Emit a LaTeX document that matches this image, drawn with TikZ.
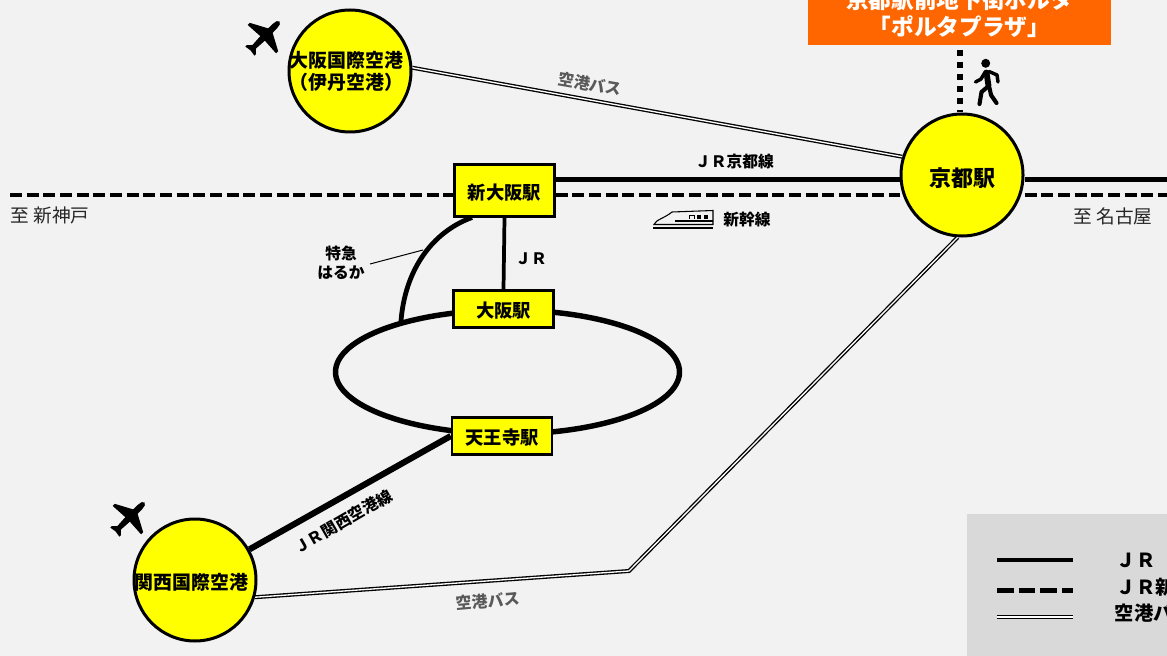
\documentclass[tikz,border=0pt]{standalone}
\usepackage{fontspec}
\setmainfont{Noto Sans CJK JP}
\usetikzlibrary{shapes.geometric}

\definecolor{bggray}{HTML}{F2F2F2}
\definecolor{legendgray}{HTML}{D9D9D9}
\definecolor{portaorange}{HTML}{FF6600}
\definecolor{busgray}{HTML}{595959}
\definecolor{stationyellow}{HTML}{FFFF00}

\tikzset{
    airport/.style={shape=circle,draw=black,fill=stationyellow,line width=2.25pt,minimum size=91.5pt,inner sep=-8pt,font=\fontsize{14.2}{16.5}\selectfont\bfseries,align=center,execute at begin node={\rule{0pt}{1.15em}}},
    station/.style={shape=rectangle,draw=black,fill=stationyellow,line width=1.9pt,minimum width=75pt,inner sep=0pt,font=\fontsize{13.7}{16}\selectfont\bfseries,execute at begin node={\rule{0pt}{1.05em}}},
    jrline/.style={draw=black,line width=3.2pt},
    shinkansen/.style={draw=black,line width=3pt,dash pattern=on 9pt off 3.5pt},
    busline/.style={draw=black,line width=1pt,double=white,double distance=1pt},
    buslabel/.style={text=busgray,font=\fontsize{12}{14}\selectfont\bfseries},
    linelabel/.style={font=\fontsize{11.8}{14.5}\selectfont\bfseries,align=center},
    placelabel/.style={font=\fontsize{14}{16}\selectfont,text=black!85},
    legendlabel/.style={anchor=west,font=\fontsize{14.5}{18}\selectfont\bfseries},
    plane/.pic={
        \fill[black] (22,0) .. controls (22,2) and (19,3) .. (16,3) -- (9,3.2) -- (0,20) -- (-3,20) -- (-2,3.2)
            -- (-14,2.5) -- (-18,6.5) -- (-20,6.5) -- (-19,0) -- (-20,-6.5) -- (-18,-6.5) -- (-14,-2.5)
            -- (-2,-3.2) -- (-3,-20) -- (0,-20) -- (9,-3.2) -- (16,-3) .. controls (19,-3) and (22,-2) .. (22,0) -- cycle;
    }
}

\begin{document}
\begin{tikzpicture}[x=0.75pt,y=-0.75pt]
    \useasboundingbox (0,0) rectangle (1167,656);
    \clip (0,0) rectangle (1167,656);
    \fill[bggray] (0,0) rectangle (1167,656);
    \fill[legendgray] (967,514) rectangle (1167,656);

    % loop line goes under the stations
    \node[shape=ellipse,draw=black,line width=4.1pt,minimum width=258pt,minimum height=93pt,inner sep=0pt] (loopline) at (507.5,372) {};

    \node[airport] (itami) at (350,71) {大阪国際空港\hspace*{5.5pt}\\（伊丹空港）\hspace*{5.5pt}};
    \node[airport,font=\fontsize{16.5}{20}\selectfont\bfseries] (kyoto) at (962,175) {京都駅};
    \node[airport] (kansai) at (195,580) {関西国際空港\hspace*{5.5pt}};

    \node[station,minimum height=39pt] (shinosaka) at (504.5,190.5) {新大阪駅};
    \node[station,minimum height=27.5pt] (osaka) at (503.5,309) {大阪駅};
    \node[station,minimum height=27.5pt] (tennoji) at (502,436) {天王寺駅};

    \node[shape=rectangle,fill=portaorange,text=white,minimum width=227pt,minimum height=47.25pt,inner sep=0pt,align=center,font=\fontsize{17}{20.25}\selectfont\bfseries] (porta) at (959.5,13.5) {京都駅前地下街ポルタ\\「ポルタプラザ」};

    \coordinate (west) at (10,195);
    \coordinate (east) at (1167,195);
    \coordinate (jreast) at (1167,179.5);
    \coordinate (busbend) at (629,571);
    \coordinate (harukatop) at (472,217.5);
    \coordinate (harukaend) at (401,321);
    \coordinate (leader) at (370,264);
    \coordinate (leaderend) at (423,250);
    \coordinate (walkend) at (960,50);

    % JR and shinkansen
    \path [jrline] (shinosaka.east |- jreast) edge (kyoto.west |- jreast);
    \path [jrline] (kyoto.east |- jreast) edge (jreast);
    \path [shinkansen] (west) edge (shinosaka.west |- west);
    \path [shinkansen] (shinosaka.east |- west) edge (kyoto.west |- west);
    \path [shinkansen] (kyoto.east |- east) edge (east);

    \path [draw=black,line width=2.8pt] (shinosaka.south) edge (osaka.north);
    \path [draw=black,line width=4.6pt] (kansai) edge (tennoji.west);
    \draw [black,line width=3.6pt] (harukaend) .. controls (405,270) and (432,232) .. (harukatop);
    \path [draw=black,line width=0.75pt] (leader) edge (leaderend);

    % airport bus
    \draw [busline] (itami.3) -- (kyoto.163);
    \draw [busline] (kyoto.266) -- (busbend) -- (kansai.-16);

    \path [draw=black,line width=4.5pt,dash pattern=on 4.5pt off 4.5pt] (walkend) edge (kyoto.north -| walkend);

    % labels
    \node[buslabel,rotate=-10] (bus1) at (590,84) {空港バス};
    \node[buslabel,rotate=5] (bus2) at (488,601) {空港バス};
    \node[linelabel] (jrkyoto) at (734.5,162) {ＪＲ京都線};
    \node[linelabel] (shinkansenlabel) at (747,220) {新幹線};
    \node[linelabel] (jr) at (531,259) {ＪＲ};
    \node[linelabel] (haruka) at (341,262.5) {特急\\はるか};
    \node[linelabel,rotate=30] (jrkansai) at (343,521.5) {ＪＲ関西空港線};
    \node[placelabel] (tokobe) at (50,215.5) {至 新神戸};
    \node[placelabel] (tonagoya) at (1113,216.5) {至 名古屋};

    % planes
    \pic[rotate=45] at (264,37) {plane};
    \pic[rotate=45] at (129,518) {plane};

    % walker
    \fill[black] (985.7,63.3) circle (4.5);
    \draw[black,line width=4.4pt,line cap=round,line join=round] (986.5,72.5) -- (988.5,86);
    \draw[black,line width=2.6pt,line cap=round,line join=round] (985.5,71.5) -- (981,79) -- (975.5,82);
    \draw[black,line width=2.6pt,line cap=round,line join=round] (989,71.5) -- (997,75) -- (998,82);
    \draw[black,line width=3.1pt,line cap=round,line join=round] (987.5,87) -- (981.5,92) -- (979.5,104);
    \draw[black,line width=3.1pt,line cap=round,line join=round] (989.5,88) -- (991,95) -- (996.5,103);

    % train
    \draw[black,line width=0.8pt] (654,224.5) .. controls (656,219.5) and (664,218.5) .. (672,212) -- (713,210.5) -- (713,224.5) -- cycle;
    \draw[black,line width=1pt] (675,221) -- (713,221);
    \draw[black,line width=0.6pt] (689,219) -- (689,215) -- (694,215) -- (694,219);
    \fill[black] (697,215) rectangle (701,219);
    \fill[black] (704,215) rectangle (708,219);
    \draw[black,line width=1.3pt] (653,227.8) -- (713,227.8);

    % legend
    \coordinate (lega) at (997,560);
    \coordinate (legb) at (1073,560);
    \coordinate (legc) at (997,590);
    \coordinate (legd) at (1073,590);
    \coordinate (lege) at (997,617);
    \coordinate (legf) at (1073,617);
    \path [jrline] (lega) edge (legb);
    \path [draw=black,line width=3.75pt,dash pattern=on 12.5pt off 3.75pt] (legc) edge (legd);
    \draw [busline] (lege) -- (legf);
    \node[legendlabel] (legjr) at (1112,560.5) {ＪＲ};
    \node[legendlabel] (legshin) at (1112,587) {ＪＲ新幹線};
    \node[legendlabel] (legbus) at (1110,613) {空港バス};
\end{tikzpicture}
\end{document}
